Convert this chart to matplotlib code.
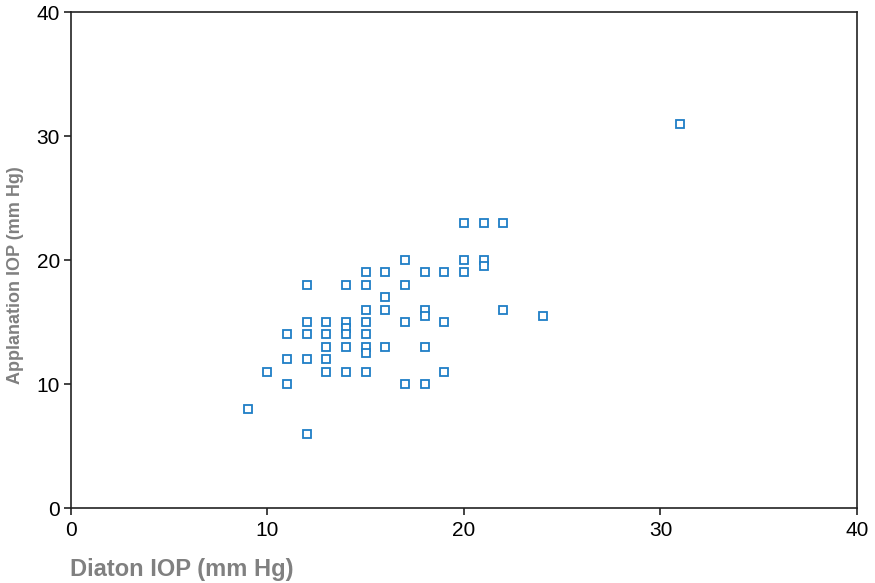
import numpy as np
import matplotlib
matplotlib.use('Agg')
import matplotlib.pyplot as plt

# Diaton vs applanation IOP (mm Hg)
diaton = [9, 10,
          11, 11, 11,
          12, 12, 12, 12, 12,
          13, 13, 13, 13, 13,
          14, 14, 14, 14, 14, 14,
          15, 15, 15, 15, 15, 15, 15, 15,
          16, 16, 16, 16,
          17, 17, 17, 17,
          18, 18, 18, 18, 18,
          19, 19, 19,
          20, 20, 20,
          21, 21, 21,
          22, 22,
          24, 31]
applanation = [8, 11,
               14, 12, 10,
               18, 15, 14, 12, 6,
               15, 14, 13, 12, 11,
               18, 15, 14.5, 14, 13, 11,
               19, 18, 16, 15, 14, 13, 12.5, 11,
               19, 17, 16, 13,
               20, 18, 15, 10,
               19, 16, 15.5, 13, 10,
               19, 15, 11,
               23, 20, 19,
               23, 20, 19.5,
               23, 16,
               15.5, 31]

x_ticks = [0, 10, 20, 30, 40]
y_ticks = [0, 10, 20, 30, 40]

plt.rcParams['font.family'] = ['Liberation Sans Narrow', 'DejaVu Sans Condensed',
                               'Liberation Sans', 'DejaVu Sans']

fig = plt.figure(figsize=(8.75, 5.83), dpi=100)
ax = fig.add_axes([0.0811, 0.1286, 0.8983, 0.8508])

ax.plot(diaton, applanation, linestyle='none', marker='s', markersize=5.6,
        markerfacecolor='white', markeredgecolor='#1f7ec6', markeredgewidth=1.3)

ax.set_xlim(0, 40)
ax.set_ylim(0, 40)
ax.set_xticks(x_ticks)
ax.set_yticks(y_ticks)
ax.tick_params(direction='out', length=5, width=1.2, color='#222222')
ax.tick_params(axis='x', labelsize=15, pad=4)
ax.tick_params(axis='y', labelsize=15, pad=3)
for lab in ax.get_yticklabels():
    lab.set_family(['Liberation Sans', 'DejaVu Sans'])

for s in ax.spines.values():
    s.set_linewidth(1.2)
    s.set_color('#222222')

fig.text(0.080, 0.012, 'Diaton IOP (mm Hg)', fontsize=17, fontweight='bold',
         color='#808080', family=['Liberation Sans', 'DejaVu Sans'])
fig.text(0.018, 0.528, 'Applanation IOP (mm Hg)', fontsize=13, fontweight='bold',
         color='#808080', rotation=90, ha='center', va='center',
         family=['Liberation Sans', 'DejaVu Sans'])

plt.savefig('out.png', dpi=100)
plt.close()
